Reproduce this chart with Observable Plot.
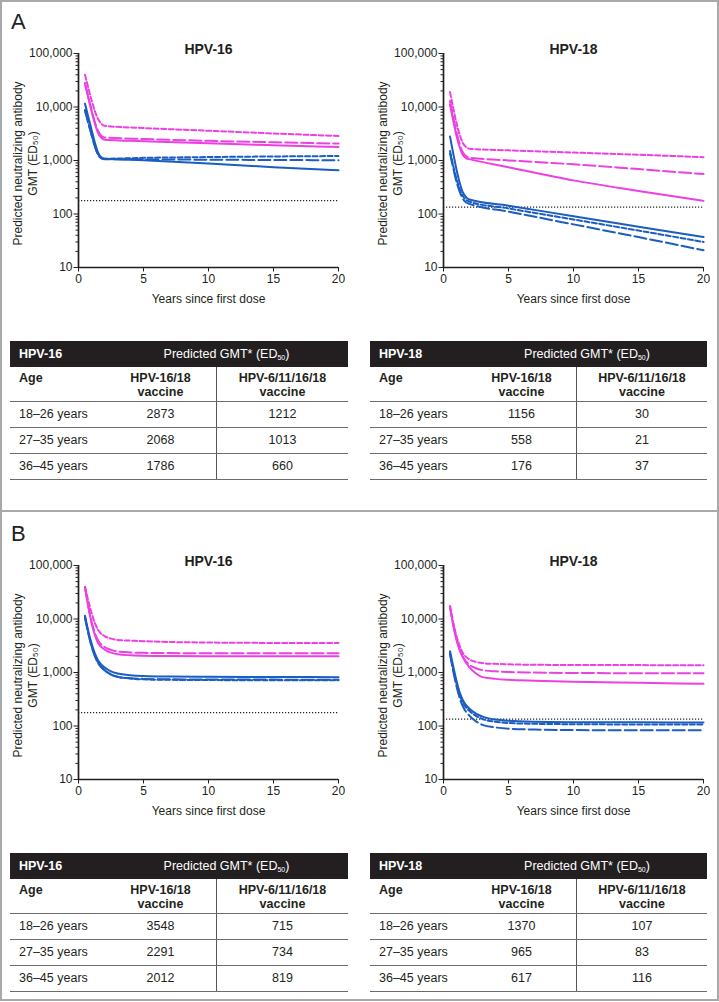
<!DOCTYPE html>
<html>
<head>
<meta charset="utf-8">
<script src="https://cdn.jsdelivr.net/npm/d3@7"></script>
<script src="https://cdn.jsdelivr.net/npm/@observablehq/plot@0.6"></script>
<style>
  html, body { margin: 0; padding: 0; background: #fff; }
  body { font-family: "Liberation Sans", Arial, Helvetica, sans-serif; color: #231f20; }
  #root { position: relative; width: 719px; height: 1002px; overflow: hidden; }
  .box { position: absolute; border: 2px solid #a9a9a9; box-sizing: border-box; }
  .plabel { position: absolute; font-size: 22px; line-height: 22px; color: #231f20; }
  .plot { position: absolute; }
  .tbl { position: absolute; font-size: 12.5px; color: #231f20; }
  .tbl .row { display: flex; box-sizing: border-box; }
  .tbl .hd { height: 26px; background: #231f20; color: #fff; align-items: center; }
  .tbl .hd .c1 { font-weight: bold; padding-left: 9px; box-sizing: border-box; }
  .tbl .hd .c23 { flex: 1; text-align: center; }
  .tbl .sub { height: 35px; border-bottom: 1.5px solid #6b6b6b; font-weight: bold; line-height: 14px; }
  .tbl .sub > div { padding-top: 4px; box-sizing: border-box; }
  .tbl .dat { height: 26px; border-bottom: 1.5px solid #6b6b6b; line-height: 24px; }
  .tbl .c1 { padding-left: 9px; box-sizing: border-box; }
  .tbl .c2 { text-align: center; border-right: 1.5px solid #555; box-sizing: border-box; }
  .tbl .c3 { text-align: center; }
  sub.s { font-size: 7px; vertical-align: -2px; line-height: 0; }
</style>
</head>
<body>
<div id="root"></div>
<script>
// ---------------- DATA ----------------
const vaccines = ["HPV-16/18 vaccine", "HPV-6/11/16/18 vaccine"];
const ageGroups = ["18–26 years", "27–35 years", "36–45 years"];
const xTicks = [0, 5, 10, 15, 20];
const yTicks = [10, 100, 1000, 10000, 100000];
const yMinorTicks = [20,30,40,50,60,70,80,90,200,300,400,500,600,700,800,900,2000,3000,4000,5000,6000,7000,8000,9000,20000,30000,40000,50000,60000,70000,80000,90000];
const thresholdHPV16 = 178;
const thresholdHPV18 = 134;

// years since first dose at which curves were read
const timesA = [0.5, 0.75, 1, 1.25, 1.5, 1.75, 2, 5, 10, 15, 20];
const timesB = [0.5, 0.75, 1, 1.25, 1.5, 2, 2.5, 3, 4, 5, 7, 10, 15, 20];

// Panel A, HPV-16 (HPV-16/18 vaccine = cvx, HPV-6/11/16/18 vaccine = q)
const a16_cvx_18_26 = [40000, 23000, 13500, 8500, 6000, 4900, 4450, 4050, 3600, 3200, 2873];
const a16_cvx_27_35 = [28000, 15500, 8800, 5300, 3600, 2900, 2700, 2520, 2330, 2190, 2068];
const a16_cvx_36_45 = [27000, 15000, 8500, 5000, 3300, 2650, 2450, 2300, 2100, 1930, 1786];
const a16_q_18_26 = [8800, 5200, 3100, 1900, 1320, 1120, 1080, 1120, 1160, 1190, 1212];
const a16_q_27_35 = [8500, 5000, 3000, 1850, 1280, 1100, 1060, 1050, 1035, 1022, 1013];
const a16_q_36_45 = [11500, 6600, 3800, 2200, 1420, 1150, 1080, 1010, 880, 750, 660];

// Panel A, HPV-18
const a18_cvx_18_26 = [19000, 9500, 5000, 3000, 2100, 1780, 1660, 1550, 1410, 1280, 1156];
const a18_cvx_27_35 = [13000, 6500, 3400, 2000, 1400, 1200, 1130, 1005, 850, 690, 558];
const a18_cvx_36_45 = [11000, 5500, 2900, 1750, 1250, 1100, 1060, 750, 425, 270, 176];
const a18_q_18_26 = [1500, 800, 450, 290, 215, 182, 170, 127, 79, 49, 30];
const a18_q_27_35 = [1350, 720, 400, 260, 190, 164, 155, 111, 64, 37, 21];
const a18_q_36_45 = [2800, 1350, 680, 380, 250, 205, 187, 143, 91, 58, 37];

// Panel B, HPV-16
const b16_cvx_18_26 = [40000, 22000, 13000, 8500, 6300, 4800, 4300, 4050, 3950, 3850, 3720, 3630, 3570, 3548];
const b16_cvx_27_35 = [39000, 18000, 9000, 5600, 4000, 3000, 2650, 2480, 2370, 2330, 2305, 2296, 2292, 2291];
const b16_cvx_36_45 = [39000, 17000, 8500, 5100, 3600, 2700, 2350, 2200, 2100, 2060, 2030, 2020, 2015, 2012];
const b16_q_18_26 = [11000, 5600, 3200, 2100, 1550, 1120, 920, 830, 770, 745, 730, 722, 717, 715];
const b16_q_27_35 = [10500, 5400, 3100, 2050, 1500, 1100, 910, 830, 780, 760, 745, 740, 736, 734];
const b16_q_36_45 = [11500, 6000, 3500, 2300, 1700, 1250, 1050, 960, 890, 860, 840, 830, 822, 819];

// Panel B, HPV-18
const b18_cvx_18_26 = [17500, 8500, 4800, 3100, 2300, 1750, 1580, 1500, 1450, 1420, 1395, 1382, 1374, 1370];
const b18_cvx_27_35 = [17000, 8000, 4300, 2700, 1950, 1400, 1200, 1110, 1050, 1020, 995, 980, 970, 965];
const b18_cvx_36_45 = [17000, 7500, 4000, 2600, 1900, 1250, 960, 820, 760, 730, 700, 670, 640, 617];
const b18_q_18_26 = [2300, 1150, 620, 380, 270, 190, 155, 135, 120, 114, 110, 108, 107, 107];
const b18_q_27_35 = [2200, 1050, 550, 330, 230, 155, 122, 105, 94, 89, 86, 84, 83, 83];
const b18_q_36_45 = [2500, 1300, 700, 420, 300, 210, 170, 150, 132, 125, 120, 118, 117, 116];

// Table values: predicted GMT (ED50)
const tblA16_cvx = [2873, 2068, 1786];
const tblA16_q = [1212, 1013, 660];
const tblA18_cvx = [1156, 558, 176];
const tblA18_q = [30, 21, 37];
const tblB16_cvx = [3548, 2291, 2012];
const tblB16_q = [715, 734, 819];
const tblB18_cvx = [1370, 965, 617];
const tblB18_q = [107, 83, 116];

// ---------------- STYLE ----------------
const vaccineColors = ["#ec40e2", "#1b5dc0"];
const ageDashes = ["5,2.5", "12,4", null];
const FONT = '"Liberation Sans", Arial, Helvetica, sans-serif';
const INK = "#231f20";

const root = document.getElementById("root");

function addDiv(cls, style, html) {
  const d = document.createElement("div");
  d.className = cls;
  Object.assign(d.style, style);
  if (html != null) d.innerHTML = html;
  root.appendChild(d);
  return d;
}

// frames
addDiv("box", {left: "0px", top: "0px", width: "719px", height: "512px"});
addDiv("box", {left: "0px", top: "510px", width: "719px", height: "491px"});
addDiv("plabel", {left: "11px", top: "11px"}, "A");
addDiv("plabel", {left: "11px", top: "523px"}, "B");

function buildPlot(spec) {
  const rows = [];
  spec.series.forEach((vals, i) => {
    vals.forEach((v, j) => rows.push({t: spec.times[j], v, vaccine: vaccines[Math.floor(i / 3)], age: ageGroups[i % 3]}));
  });
  const marks = [
    Plot.ruleY([spec.threshold], {x1: xTicks[0], x2: xTicks[xTicks.length - 1], stroke: INK, strokeWidth: 1.3, strokeDasharray: "1.2,1.8"})
  ];
  for (const ai of [2, 1, 0]) {
    for (const vi of [1, 0]) {
      const opts = {x: "t", y: "v", stroke: vaccineColors[vi], strokeWidth: 2, curve: "monotone-x"};
      if (ageDashes[ai]) opts.strokeDasharray = ageDashes[ai];
      marks.push(Plot.line(rows.filter(r => r.vaccine === vaccines[vi] && r.age === ageGroups[ai]), opts));
    }
  }
  marks.push(
    Plot.axisY({ticks: yMinorTicks, tickSize: 2.5, fill: "none", tickFormat: () => "", label: null}),
    Plot.axisY({ticks: yTicks, tickSize: 4.5, tickPadding: 1.5, tickFormat: d3.format(","), label: null, fontSize: 12}),
    Plot.axisX({ticks: xTicks, tickSize: 4.5, tickPadding: 2, label: null, fontSize: 12}),
    Plot.ruleX([0], {stroke: INK, strokeWidth: 1.7}),
    Plot.ruleY([10], {stroke: INK, strokeWidth: 1.7}),
    Plot.text([spec.title], {frameAnchor: "top", dy: -9, fontWeight: "bold", fontSize: 14}),
    Plot.text(["Predicted neutralizing antibody\nGMT (ED₅₀)"], {frameAnchor: "left", textAnchor: "middle", lineAnchor: "middle", rotate: -90, dx: -54, dy: 3, fontSize: 12, lineHeight: 1.25}),
    Plot.text(["Years since first dose"], {frameAnchor: "bottom", dy: 35, fontSize: 12})
  );
  const svg = Plot.plot({
    width: spec.width, height: 315,
    marginLeft: 78, marginRight: spec.width - 78 - 260, marginTop: 53, marginBottom: 48,
    x: {domain: [0, 20]},
    y: {type: "log", domain: [10, 100000]},
    style: {fontFamily: FONT, fontSize: "12px", color: INK, background: "transparent", overflow: "visible"},
    marks
  });
  const wrap = addDiv("plot", {left: spec.left + "px", top: spec.top + "px"});
  wrap.appendChild(svg);
}

const plotSpecs = [
  {title: "HPV-16", left: 0, top: 0, width: 355, times: timesA, threshold: thresholdHPV16,
   series: [a16_cvx_18_26, a16_cvx_27_35, a16_cvx_36_45, a16_q_18_26, a16_q_27_35, a16_q_36_45]},
  {title: "HPV-18", left: 365, top: 0, width: 354, times: timesA, threshold: thresholdHPV18,
   series: [a18_cvx_18_26, a18_cvx_27_35, a18_cvx_36_45, a18_q_18_26, a18_q_27_35, a18_q_36_45]},
  {title: "HPV-16", left: 0, top: 512, width: 355, times: timesB, threshold: thresholdHPV16,
   series: [b16_cvx_18_26, b16_cvx_27_35, b16_cvx_36_45, b16_q_18_26, b16_q_27_35, b16_q_36_45]},
  {title: "HPV-18", left: 365, top: 512, width: 354, times: timesB, threshold: thresholdHPV18,
   series: [b18_cvx_18_26, b18_cvx_27_35, b18_cvx_36_45, b18_q_18_26, b18_q_27_35, b18_q_36_45]}
];
plotSpecs.forEach(buildPlot);

function buildTable(spec) {
  const [w1, w2, w3] = spec.cols;
  let html = `<div class="row hd"><div class="c1" style="width:${w1}px">${spec.type}</div>` +
    `<div class="c23">Predicted GMT* (ED<sub class="s">50</sub>)</div></div>`;
  html += `<div class="row sub"><div class="c1" style="width:${w1}px">Age</div>` +
    `<div class="c2" style="width:${w2}px">HPV-16/18<br>vaccine</div>` +
    `<div class="c3" style="width:${w3}px">HPV-6/11/16/18<br>vaccine</div></div>`;
  ageGroups.forEach((a, i) => {
    html += `<div class="row dat"><div class="c1" style="width:${w1}px">${a}</div>` +
      `<div class="c2" style="width:${w2}px">${spec.cvx[i]}</div>` +
      `<div class="c3" style="width:${w3}px">${spec.q[i]}</div></div>`;
  });
  addDiv("tbl", {left: spec.left + "px", top: spec.top + "px", width: (w1 + w2 + w3) + "px"}, html);
}

buildTable({type: "HPV-16", left: 10, top: 341, cols: [95, 112, 131], cvx: tblA16_cvx, q: tblA16_q});
buildTable({type: "HPV-18", left: 370, top: 341, cols: [97, 110, 130], cvx: tblA18_cvx, q: tblA18_q});
buildTable({type: "HPV-16", left: 10, top: 853, cols: [95, 112, 131], cvx: tblB16_cvx, q: tblB16_q});
buildTable({type: "HPV-18", left: 370, top: 853, cols: [97, 110, 130], cvx: tblB18_cvx, q: tblB18_q});
</script>
</body>
</html>
